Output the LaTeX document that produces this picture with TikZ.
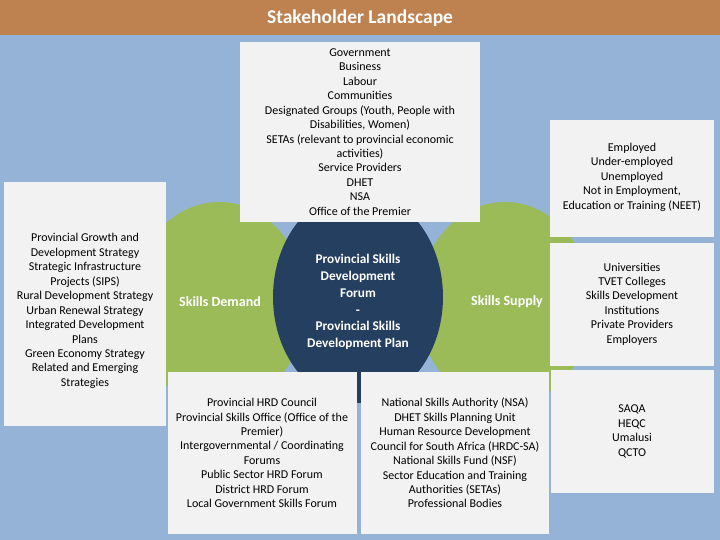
\documentclass[tikz,border=0pt]{standalone}
\usepackage{fontspec}
\setmainfont{Carlito}
\definecolor{hdr}{HTML}{BE8150}
\definecolor{bgblue}{HTML}{95B3D7}
\definecolor{grn}{HTML}{9BBB59}
\definecolor{navy}{HTML}{243F60}
\definecolor{boxfill}{HTML}{F2F2F2}
\begin{document}
\begin{tikzpicture}[x=1pt,y=-1pt,
  panel/.style={fill=boxfill,draw=none},
  paneltext/.style={align=center,inner sep=0pt,text=black,font=\fontsize{12}{14.45}\selectfont},
  whitebold/.style={align=center,inner sep=0pt,text=white,font=\bfseries\fontsize{13.3}{16.8}\selectfont}]
\useasboundingbox (0,0) rectangle (720,540);
% background
\fill[bgblue] (0,0) rectangle (720,540);
\fill[hdr] (0,0) rectangle (720,35);
\node[text=white,font=\bfseries\fontsize{19.5}{22}\selectfont,inner sep=0pt] (title) at (360,18) {Stakeholder Landscape};
% circles
\fill[grn] (219,304) ellipse[x radius=87,y radius=102];
\fill[grn] (505,304) ellipse[x radius=87,y radius=102];
\fill[navy] (358,297) ellipse[x radius=85,y radius=106];
\node[whitebold,font=\bfseries\fontsize{14}{16.8}\selectfont] (demand) at (220,302) {Skills Demand};
\node[whitebold,font=\bfseries\fontsize{14}{16.8}\selectfont] (supply) at (507,302) {Skills Supply};
% panels
\fill[panel] (240,42) rectangle (480,222);
\fill[panel] (4,182) rectangle (166,426);
\fill[panel] (550,120) rectangle (714,237);
\fill[panel] (550,243) rectangle (714,366);
\fill[panel] (551,370) rectangle (714,493);
\fill[panel] (168,372) rectangle (357,534);
\fill[panel] (361,372) rectangle (549,534);
% centre text
\node[whitebold] (forum) at (358,302) {Provincial Skills\\Development\\Forum\\-\\Provincial Skills\\Development Plan};
% panel texts
\node[paneltext] (top) at (360,132) {Government\\Business\\Labour\\Communities\\Designated Groups (Youth, People with\\Disabilities, Women)\\SETAs (relevant to provincial economic\\activities)\\Service Providers\\DHET\\NSA\\Office of the Premier};
\node[paneltext] (left) at (85,311) {Provincial Growth and\\Development Strategy\\Strategic Infrastructure\\Projects (SIPS)\\Rural Development Strategy\\Urban Renewal Strategy\\Integrated Development\\Plans\\Green Economy Strategy\\Related and Emerging\\Strategies};
\node[paneltext] (r1) at (632,177) {Employed\\Under-employed\\Unemployed\\Not in Employment,\\Education or Training (NEET)};
\node[paneltext] (r2) at (632,304) {Universities\\TVET Colleges\\Skills Development\\Institutions\\Private Providers\\Employers};
\node[paneltext] (r3) at (632,431.5) {SAQA\\HEQC\\Umalusi\\QCTO};
\node[paneltext] (bl) at (262,453) {Provincial HRD Council\\Provincial Skills Office (Office of the\\Premier)\\Intergovernmental / Coordinating\\Forums\\Public Sector HRD Forum\\District HRD Forum\\Local Government Skills Forum};
\node[paneltext] (br) at (455,453) {National Skills Authority (NSA)\\DHET Skills Planning Unit\\Human Resource Development\\Council for South Africa (HRDC-SA)\\National Skills Fund (NSF)\\Sector Education and Training\\Authorities (SETAs)\\Professional Bodies};
\end{tikzpicture}
\end{document}
